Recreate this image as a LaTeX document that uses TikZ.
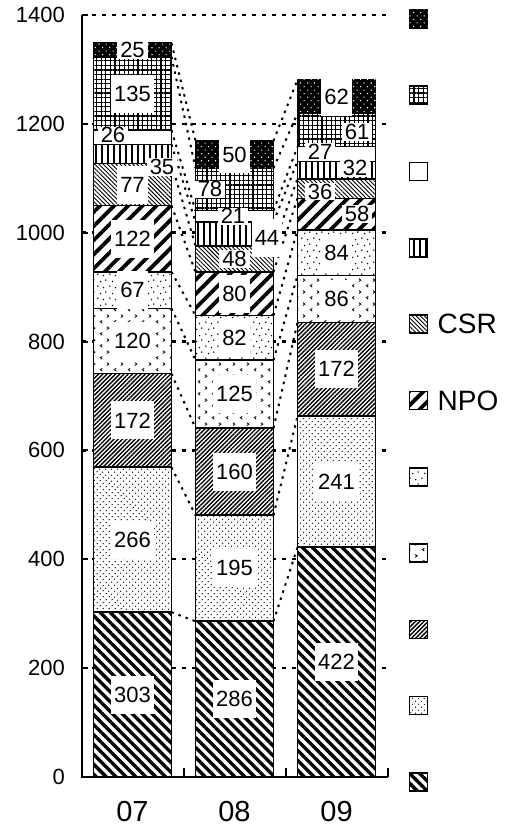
\documentclass[tikz,border=0pt]{standalone}
\usepackage{fontspec}
\setmainfont{Liberation Sans}
\usetikzlibrary{positioning,patterns,patterns.meta}

\pgfdeclarepattern{
	name=chevrons,
	type=uncolored,
	bottom left={\pgfpoint{0pt}{0pt}},
	top right={\pgfpoint{14pt}{12pt}},
	tile size={\pgfpoint{14pt}{12pt}},
	code={
		\pgfsetlinewidth{0.9pt}
		\pgfpathmoveto{\pgfpoint{4.5pt}{5pt}}\pgfpathlineto{\pgfpoint{2.5pt}{3.5pt}}\pgfpathlineto{\pgfpoint{4.5pt}{2pt}}
		\pgfpathmoveto{\pgfpoint{9.5pt}{11pt}}\pgfpathlineto{\pgfpoint{11.5pt}{9.5pt}}\pgfpathlineto{\pgfpoint{9.5pt}{8pt}}
		\pgfusepath{stroke}
	}
}
\pgfdeclarepattern{
	name=sparsedots,
	type=uncolored,
	bottom left={\pgfpoint{0pt}{0pt}},
	top right={\pgfpoint{12pt}{12pt}},
	tile size={\pgfpoint{12pt}{12pt}},
	code={
		\pgfpathcircle{\pgfpoint{2pt}{3pt}}{0.85pt}
		\pgfpathcircle{\pgfpoint{8pt}{1.5pt}}{0.85pt}
		\pgfpathcircle{\pgfpoint{5pt}{8pt}}{0.85pt}
		\pgfpathcircle{\pgfpoint{10.5pt}{9.5pt}}{0.85pt}
		\pgfusepath{fill}
	}
}

\begin{document}
\begin{tikzpicture}[
		x=1pt, y=1pt,
		font=\fontsize{22}{22}\selectfont,
		seg/.style={
			draw,
			line width=1.6pt,
			fill=white,
			minimum width=78pt,
			inner sep=0pt,
			outer sep=0pt
		},
		key/.style={seg, minimum width=18pt, minimum height=18pt},
		val/.style={fill=white, inner xsep=3pt, inner ysep=0pt, minimum height=38pt},
		tval/.style={fill=white, inner xsep=3pt, inner ysep=1pt},
		tick/.style={anchor=east, inner sep=0pt, font=\fontsize{22}{22}\selectfont},
		cat/.style={inner sep=0pt, font=\fontsize{29}{29}\selectfont},
		leg/.style={inner sep=0pt, font=\fontsize{28}{28}\selectfont},
		gridline/.style={line width=2.4pt, dash pattern=on 4pt off 6pt},
		axis/.style={line width=2pt},
		sline/.style={line width=2pt, dash pattern=on 2.5pt off 5pt},
		pat1/.style={postaction={pattern={Lines[angle=-45,distance=7pt,line width=3.4pt]}}},
		pat2/.style={postaction={pattern={Dots[angle=45,distance=4pt,radius=0.7pt]}}},
		pat3/.style={postaction={pattern={Lines[angle=45,distance=3pt,line width=1.4pt]}}},
		pat4/.style={postaction={pattern=chevrons}},
		pat5/.style={postaction={pattern=sparsedots}},
		pat6/.style={postaction={pattern={Lines[angle=45,distance=10pt,line width=3.8pt]}}},
		pat7/.style={postaction={pattern={Lines[angle=-45,distance=3pt,line width=0.9pt]}}},
		pat8/.style={postaction={pattern={Lines[angle=90,distance=6pt,line width=1.3pt]}}},
		pat9/.style={},
		pat10/.style={postaction={pattern={Hatch[angle=0,distance=4.6pt,line width=1.1pt]}}},
		pat11/.style={fill=black, postaction={pattern={Dots[angle=45,distance=5pt,radius=0.75pt]}, pattern color=white}}
		]
		\useasboundingbox (-82,-52) rectangle (423,777);
		
		% gridlines behind the bars
		\draw[gridline] (0,108.9) -- (306,108.9);
		\draw[gridline] (0,217.7) -- (306,217.7);
		\draw[gridline] (0,326.6) -- (306,326.6);
		\draw[gridline] (0,435.4) -- (306,435.4);
		\draw[gridline] (0,544.3) -- (306,544.3);
		\draw[gridline] (0,653.1) -- (306,653.1);
		\draw[gridline] (0,762.0) -- (306,762.0);
		
		% bar 07
		\node[seg, pat1, minimum height=164.9pt, anchor=south] (a1) at (50.5,0) {};
		\node[seg, pat2, minimum height=144.8pt, above=0pt of a1] (a2) {};
		\node[seg, pat3, minimum height=93.6pt, above=0pt of a2] (a3) {};
		\node[seg, pat4, minimum height=65.3pt, above=0pt of a3] (a4) {};
		\node[seg, pat5, minimum height=36.5pt, above=0pt of a4] (a5) {};
		\node[seg, pat6, minimum height=66.4pt, above=0pt of a5] (a6) {};
		\node[seg, pat7, minimum height=41.9pt, above=0pt of a6] (a7) {};
		\node[seg, pat8, minimum height=19.1pt, above=0pt of a7] (a8) {};
		\node[seg, pat9, minimum height=14.2pt, above=0pt of a8] (a9) {};
		\node[seg, pat10, minimum height=73.5pt, above=0pt of a9] (a10) {};
		\node[seg, pat11, minimum height=13.6pt, above=0pt of a10] (a11) {};
		
		% bar 08
		\node[seg, pat1, minimum height=155.7pt, anchor=south] (b1) at (152.5,0) {};
		\node[seg, pat2, minimum height=106.1pt, above=0pt of b1] (b2) {};
		\node[seg, pat3, minimum height=87.1pt, above=0pt of b2] (b3) {};
		\node[seg, pat4, minimum height=68.0pt, above=0pt of b3] (b4) {};
		\node[seg, pat5, minimum height=44.6pt, above=0pt of b4] (b5) {};
		\node[seg, pat6, minimum height=43.5pt, above=0pt of b5] (b6) {};
		\node[seg, pat7, minimum height=26.1pt, above=0pt of b6] (b7) {};
		\node[seg, pat8, minimum height=23.9pt, above=0pt of b7] (b8) {};
		\node[seg, pat9, minimum height=11.4pt, above=0pt of b8] (b9) {};
		\node[seg, pat10, minimum height=42.5pt, above=0pt of b9] (b10) {};
		\node[seg, pat11, minimum height=27.2pt, above=0pt of b10] (b11) {};
		
		% bar 09
		\node[seg, pat1, minimum height=229.7pt, anchor=south] (c1) at (254.5,0) {};
		\node[seg, pat2, minimum height=131.2pt, above=0pt of c1] (c2) {};
		\node[seg, pat3, minimum height=93.6pt, above=0pt of c2] (c3) {};
		\node[seg, pat4, minimum height=46.8pt, above=0pt of c3] (c4) {};
		\node[seg, pat5, minimum height=45.7pt, above=0pt of c4] (c5) {};
		\node[seg, pat6, minimum height=31.6pt, above=0pt of c5] (c6) {};
		\node[seg, pat7, minimum height=19.6pt, above=0pt of c6] (c7) {};
		\node[seg, pat8, minimum height=17.4pt, above=0pt of c7] (c8) {};
		\node[seg, pat9, minimum height=14.7pt, above=0pt of c8] (c9) {};
		\node[seg, pat10, minimum height=33.2pt, above=0pt of c9] (c10) {};
		\node[seg, pat11, minimum height=33.7pt, above=0pt of c10] (c11) {};
		
		% series lines
		\draw[sline] (a1.north east) -- (b1.north west);
		\draw[sline] (a2.north east) -- (b2.north west);
		\draw[sline] (a3.north east) -- (b3.north west);
		\draw[sline] (a4.north east) -- (b4.north west);
		\draw[sline] (a5.north east) -- (b5.north west);
		\draw[sline] (a6.north east) -- (b6.north west);
		\draw[sline] (a7.north east) -- (b7.north west);
		\draw[sline] (a8.north east) -- (b8.north west);
		\draw[sline] (a9.north east) -- (b9.north west);
		\draw[sline] (a10.north east) -- (b10.north west);
		\draw[sline] (a11.north east) -- (b11.north west);
		\draw[sline] (b1.north east) -- (c1.north west);
		\draw[sline] (b2.north east) -- (c2.north west);
		\draw[sline] (b3.north east) -- (c3.north west);
		\draw[sline] (b4.north east) -- (c4.north west);
		\draw[sline] (b5.north east) -- (c5.north west);
		\draw[sline] (b6.north east) -- (c6.north west);
		\draw[sline] (b7.north east) -- (c7.north west);
		\draw[sline] (b8.north east) -- (c8.north west);
		\draw[sline] (b9.north east) -- (c9.north west);
		\draw[sline] (b10.north east) -- (c10.north west);
		\draw[sline] (b11.north east) -- (c11.north west);
		
		% axes and ticks
		\draw[axis] (0,762) -- (0,0) -- (306,0);
		\draw[axis] (0,108.9) -- (6,108.9) (0,217.7) -- (6,217.7) (0,326.6) -- (6,326.6)
			(0,435.4) -- (6,435.4) (0,544.3) -- (6,544.3) (0,653.1) -- (6,653.1) (0,762) -- (6,762);
		\draw[axis] (102,0) -- (102,9) (204,0) -- (204,9) (306,0) -- (306,9);
		
		\node[tick] (t0) at (-17,0) {0};
		\node[tick] (t200) at (-17,108.9) {200};
		\node[tick] (t400) at (-17,217.7) {400};
		\node[tick] (t600) at (-17,326.6) {600};
		\node[tick] (t800) at (-17,435.4) {800};
		\node[tick] (t1000) at (-17,544.3) {1000};
		\node[tick] (t1200) at (-17,653.1) {1200};
		\node[tick] (t1400) at (-17,762) {1400};
		
		\node[cat] (x07) at (50.5,-35) {07};
		\node[cat] (x08) at (152.5,-35) {08};
		\node[cat] (x09) at (254.5,-35) {09};
		
		% value labels
		\node[val] (la1) at (a1) {303};
		\node[val] (la2) at (a2) {266};
		\node[val] (la3) at (a3) {172};
		\node[val] (la4) at (a4) {120};
		\node[val] (la5) at (a5) {67};
		\node[val] (la6) at (a6) {122};
		\node[val] (la7) at (a7) {77};
		\node[tval, xshift=29.5pt, yshift=-13pt] (la8) at (a8) {35};
		\node[tval, xshift=-19.5pt, yshift=2pt] (la9) at (a9) {26};
		\node[val] (la10) at (a10) {135};
		\node[tval] (la11) at (a11) {25};
		
		\node[val] (lb1) at (b1) {286};
		\node[val] (lb2) at (b2) {195};
		\node[val] (lb3) at (b3) {160};
		\node[val] (lb4) at (b4) {125};
		\node[val] (lb5) at (b5) {82};
		\node[val] (lb6) at (b6) {80};
		\node[tval] (lb7) at (b7) {48};
		\node[val, xshift=32.5pt, yshift=-4pt] (lb8) at (b8) {44};
		\node[tval, xshift=-1.5pt] (lb9) at (b9) {21};
		\node[tval, xshift=-24.5pt] (lb10) at (b10) {78};
		\node[val] (lb11) at (b11) {50};
		
		\node[val] (lc1) at (c1) {422};
		\node[val] (lc2) at (c2) {241};
		\node[val] (lc3) at (c3) {172};
		\node[val] (lc4) at (c4) {86};
		\node[val] (lc5) at (c5) {84};
		\node[tval, xshift=20.5pt] (lc6) at (c6) {58};
		\node[tval, xshift=-16.5pt, yshift=-3pt] (lc7) at (c7) {36};
		\node[tval, xshift=18.5pt, yshift=2pt] (lc8) at (c8) {32};
		\node[tval, xshift=-16.5pt, yshift=2pt] (lc9) at (c9) {27};
		\node[tval, xshift=20.5pt, yshift=-2pt] (lc10) at (c10) {61};
		\node[val] (lc11) at (c11) {62};
		
		% legend
		\node[key, pat11] (k11) at (336.5,758) {};
		\node[key, pat10, below=58.3pt of k11] (k10) {};
		\node[key, pat9, below=58.3pt of k10] (k9) {};
		\node[key, pat8, below=58.3pt of k9] (k8) {};
		\node[key, pat7, below=58.3pt of k8] (k7) {};
		\node[key, pat6, below=58.3pt of k7] (k6) {};
		\node[key, pat5, below=58.3pt of k6] (k5) {};
		\node[key, pat4, below=58.3pt of k5] (k4) {};
		\node[key, pat3, below=58.3pt of k4] (k3) {};
		\node[key, pat2, below=58.3pt of k3] (k2) {};
		\node[key, pat1, below=58.3pt of k2] (k1) {};
		\node[leg, right=10pt of k7] (csr) {CSR};
		\node[leg, right=10pt of k6] (npo) {NPO};
		
	\end{tikzpicture}
\end{document}
